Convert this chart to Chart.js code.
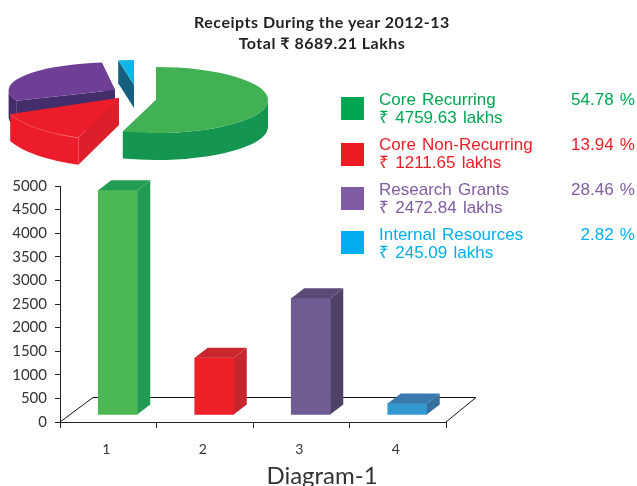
<!DOCTYPE html>
<html>
<head>
<meta charset="utf-8">
<title>Receipts During the year 2012-13</title>
<script src="https://cdn.jsdelivr.net/npm/chart.js@4"></script>
<style>
  html, body { margin: 0; padding: 0; background: #fff; }
  body { position: relative; width: 637px; height: 486px; overflow: hidden; }
  canvas { position: absolute; left: 0; top: 0; }
  .title { position: absolute; left: 122px; width: 400px; text-align: center; font: bold 16px Lato, sans-serif; letter-spacing: 0.5px; color: #231f20; line-height: 21px; top: 11px; }
  .caption { position: absolute; left: 222px; width: 200px; text-align: center; top: 459px; font: 24px Lato, sans-serif; color: #333; line-height: 32px; }
  .swatch { position: absolute; left: 341px; width: 23px; height: 23px; }
  .row { position: absolute; left: 379px; width: 256px; font: 17px "Liberation Sans", sans-serif; word-spacing: 1.5px; line-height: 18px; white-space: nowrap; }
  .row .pct { position: absolute; right: 0; top: 0; }
</style>
</head>
<body>
<canvas id="chart-bars" width="637" height="486"></canvas>
<canvas id="chart-pie" width="300" height="224"></canvas>
<div class="title">Receipts During the year 2012-13<br>Total ₹ 8689.21 Lakhs</div>
<div id="legend"></div>
<div class="caption">Diagram-1</div>

<script>
// ============================================================
// Data
// ============================================================
const CATEGORIES = ['Core Recurring', 'Core Non-Recurring', 'Research Grants', 'Internal Resources'];
const BAR_LABELS = ['1', '2', '3', '4'];
const LAKHS = [4759.63, 1211.65, 2472.84, 245.09];
const PERCENTS = ['54.78', '13.94', '28.46', '2.82'];
const Y_MAX = 5000;
const Y_STEP = 500;

// ============================================================
// Colours
// ============================================================
const LEGEND_COLORS = ['#00a651', '#ed1c24', '#7f5ca4', '#00aeef'];
const BAR_FRONT = ['#4cb853', '#ee2129', '#705c93', '#3399d1'];
const BAR_SIDE = ['#239c53', '#c9252f', '#4f4168', '#35719f'];
const BAR_TOP = ['#239c53', '#c9252f', '#5a4a78', '#3a7aae'];
const PIE_TOP = ['#41b153', '#ed1c2a', '#6f3f98', '#12b5e8'];
const PIE_WALL = ['#149650', '#ed1c2a', '#432e6b', '#16607f'];
const PIE_CUT = ['#149650', '#dc1f2b', '#432e6b', '#16607f'];
const PIE_RIM = [null, '#f4696f', null, null];

// ============================================================
// Legend
// ============================================================
const LEGEND_ROW_TOP = [91, 136, 181, 226];
const SWATCH_TOP = [97, 143, 187, 231];
const legendEl = document.getElementById('legend');
CATEGORIES.forEach((name, i) => {
  legendEl.innerHTML += `
    <div class="swatch" style="top:${SWATCH_TOP[i]}px;background:${LEGEND_COLORS[i]}"></div>
    <div class="row" style="top:${LEGEND_ROW_TOP[i]}px;color:${LEGEND_COLORS[i]}">
      ${name}<span class="pct">${PERCENTS[i]} %</span><br>₹ ${LAKHS[i].toFixed(2)} lakhs
    </div>`;
});

// ============================================================
// Exploded 3D pie
// ============================================================
const PIE_APEX = [[156, 100], [119, 98], [115, 90], [134, 85]];
const PIE_SCALE = [1, 1.05, 0.95, 0.8];
const PIE_SQUASH = [0.295, 0.36, 0.26, 0.28];
const PIE_DEPTH = [27, 27, 27, 23];
const PIE_ORDER = [2, 3, 1, 0];
// the artwork's cut lines sit a few degrees off the true angles
const PIE_START_NUDGE = [0, 3, 0, 0];
const PIE_END_NUDGE = [0, 0, 3, 0];

const pie3d = {
  id: 'pie3d',
  beforeDatasetsDraw(chart) {
    const ctx = chart.ctx;
    const arcs = chart.getDatasetMeta(0).data;
    PIE_ORDER.forEach(i => {
      const arc = arcs[i];
      const [cx, cy] = PIE_APEX[i];
      const r = arc.outerRadius * PIE_SCALE[i];
      const ry = r * PIE_SQUASH[i];
      const d = PIE_DEPTH[i];
      const a0 = arc.startAngle + PIE_START_NUDGE[i] * Math.PI / 180;
      const a1 = arc.endAngle + PIE_END_NUDGE[i] * Math.PI / 180;

      // cut faces
      ctx.fillStyle = PIE_CUT[i];
      [a0, a1].forEach(a => {
        const ex = cx + r * Math.cos(a);
        const ey = cy + ry * Math.sin(a);
        ctx.beginPath();
        ctx.moveTo(cx, cy);
        ctx.lineTo(ex, ey);
        ctx.lineTo(ex, ey + d);
        ctx.lineTo(cx, cy + d);
        ctx.closePath();
        ctx.fill();
      });

      // outer wall, only the part facing the viewer
      const w0 = Math.max(a0, 0);
      const w1 = Math.min(a1, Math.PI);
      if (w1 > w0) {
        ctx.fillStyle = PIE_WALL[i];
        ctx.beginPath();
        ctx.ellipse(cx, cy, r, ry, 0, w0, w1);
        ctx.ellipse(cx, cy + d, r, ry, 0, w1, w0, true);
        ctx.closePath();
        ctx.fill();
      }

      // top face
      ctx.fillStyle = PIE_TOP[i];
      ctx.beginPath();
      ctx.moveTo(cx, cy);
      ctx.ellipse(cx, cy, r, ry, 0, a0, a1);
      ctx.closePath();
      ctx.fill();

      if (PIE_RIM[i]) {
        ctx.strokeStyle = PIE_RIM[i];
        ctx.lineWidth = 0.7;
        ctx.beginPath();
        ctx.ellipse(cx, cy, r, ry, 0, a0, a1);
        ctx.stroke();
      }
    });
    return false;
  },
};

new Chart(document.getElementById('chart-pie'), {
  type: 'pie',
  data: {
    labels: CATEGORIES,
    datasets: [{ data: LAKHS, backgroundColor: PIE_TOP, borderWidth: 0 }],
  },
  options: {
    responsive: false,
    animation: false,
    events: [],
    plugins: { legend: { display: false }, tooltip: { enabled: false } },
  },
  plugins: [pie3d],
});

// ============================================================
// 3D bars
// ============================================================
const BAR_SHIFT_X = 9.5;
const BAR_SHIFT_Y = -7;
const BAR_DEPTH_X = 13;
const BAR_DEPTH_Y = -10;
const FLOOR_DX = 33;
const FLOOR_DY = -25;

const bars3d = {
  id: 'bars3d',
  beforeDatasetsDraw(chart) {
    const { ctx, chartArea: a } = chart;
    // floor
    ctx.save();
    ctx.strokeStyle = '#111';
    ctx.lineWidth = 1;
    ctx.beginPath();
    ctx.moveTo(a.left, a.bottom);
    ctx.lineTo(a.left + FLOOR_DX, a.bottom + FLOOR_DY + 0.5);
    ctx.lineTo(a.right + FLOOR_DX - 3, a.bottom + FLOOR_DY + 0.5);
    ctx.lineTo(a.right, a.bottom);
    ctx.stroke();
    ctx.restore();
    ctx.save();
    ctx.translate(BAR_SHIFT_X, BAR_SHIFT_Y);
  },
  afterDatasetsDraw(chart) {
    const ctx = chart.ctx;
    chart.getDatasetMeta(0).data.forEach((bar, i) => {
      const l = bar.x - bar.width / 2;
      const r = bar.x + bar.width / 2;
      ctx.fillStyle = BAR_SIDE[i];
      ctx.beginPath();
      ctx.moveTo(r, bar.y);
      ctx.lineTo(r + BAR_DEPTH_X, bar.y + BAR_DEPTH_Y);
      ctx.lineTo(r + BAR_DEPTH_X, bar.base + BAR_DEPTH_Y);
      ctx.lineTo(r, bar.base);
      ctx.closePath();
      ctx.fill();
      ctx.fillStyle = BAR_TOP[i];
      ctx.beginPath();
      ctx.moveTo(l, bar.y);
      ctx.lineTo(l + BAR_DEPTH_X, bar.y + BAR_DEPTH_Y);
      ctx.lineTo(r + BAR_DEPTH_X, bar.y + BAR_DEPTH_Y);
      ctx.lineTo(r, bar.y);
      ctx.closePath();
      ctx.fill();
    });
    ctx.restore();
  },
};

new Chart(document.getElementById('chart-bars'), {
  type: 'bar',
  data: {
    labels: BAR_LABELS,
    datasets: [{
      data: LAKHS,
      backgroundColor: BAR_FRONT,
      borderWidth: 0,
      barThickness: 39,
      clip: false,
    }],
  },
  options: {
    responsive: false,
    animation: false,
    events: [],
    layout: { padding: { left: 0, top: 186, right: 191, bottom: 0 } },
    plugins: { legend: { display: false }, tooltip: { enabled: false } },
    scales: {
      x: {
        afterFit: s => { s.height = 64; },
        border: { color: '#222', width: 1 },
        grid: { drawOnChartArea: false, drawTicks: true, tickLength: 6, color: '#222' },
        ticks: { color: '#333', padding: 13, labelOffset: -2, font: { family: 'Lato', size: 14 } },
      },
      y: {
        min: 0,
        max: Y_MAX,
        afterFit: s => { s.width = 60; },
        border: { color: '#222', width: 1 },
        grid: { drawOnChartArea: false, drawTicks: true, tickLength: 5, color: '#222' },
        ticks: {
          stepSize: Y_STEP,
          color: '#333',
          padding: 8,
          font: { family: 'Lato', size: 15 },
          callback: v => String(v),
        },
      },
    },
  },
  plugins: [bars3d],
});
</script>
</body>
</html>
